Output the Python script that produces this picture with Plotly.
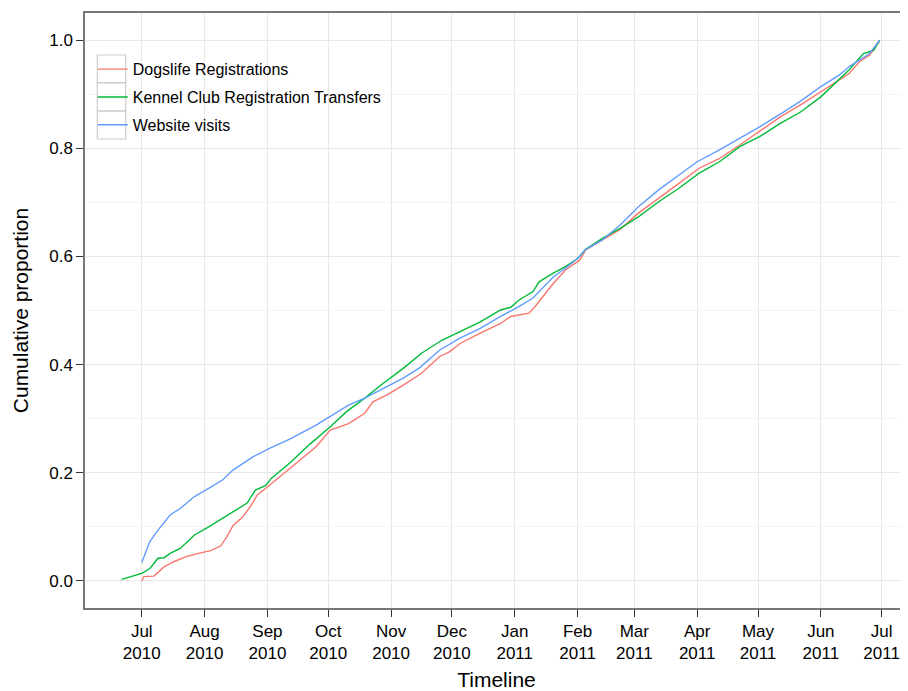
import plotly.graph_objects as go

# ---- data ----
red_dates = ["2010-07-01","2010-07-02","2010-07-07","2010-07-10","2010-07-12","2010-07-17","2010-07-23","2010-07-29",
             "2010-08-04","2010-08-09","2010-08-12","2010-08-15","2010-08-20","2010-08-24","2010-08-27","2010-09-02",
             "2010-09-08","2010-09-13","2010-09-25","2010-10-02","2010-10-11","2010-10-19","2010-10-23","2010-10-30",
             "2010-11-07","2010-11-16","2010-11-25","2010-11-30","2010-12-05","2010-12-15","2010-12-25","2010-12-30",
             "2011-01-08","2011-01-11","2011-01-16","2011-01-20","2011-01-26","2011-02-02","2011-02-05","2011-02-13",
             "2011-02-22","2011-03-03","2011-03-13","2011-03-23","2011-04-02","2011-04-12","2011-04-22","2011-05-02",
             "2011-05-12","2011-05-22","2011-06-01","2011-06-10","2011-06-15","2011-06-20","2011-06-25","2011-06-30"]
red_vals = [0.0,0.008,0.009,0.020,0.026,0.036,0.045,0.051,
            0.056,0.065,0.082,0.102,0.119,0.140,0.159,0.177,
            0.196,0.211,0.248,0.279,0.291,0.310,0.331,0.344,
            0.362,0.384,0.415,0.424,0.439,0.458,0.476,0.489,
            0.495,0.507,0.532,0.550,0.575,0.593,0.612,0.630,
            0.650,0.680,0.707,0.735,0.763,0.781,0.806,0.832,
            0.858,0.880,0.904,0.926,0.938,0.960,0.972,0.998]

green_dates = ["2010-06-21","2010-07-01","2010-07-05","2010-07-09","2010-07-12","2010-07-15","2010-07-20","2010-07-27",
               "2010-08-03","2010-08-11","2010-08-16","2010-08-22","2010-08-26","2010-08-31","2010-09-03","2010-09-12",
               "2010-09-22","2010-10-02","2010-10-10","2010-10-19","2010-10-28","2010-11-07","2010-11-16","2010-11-26",
               "2010-12-05","2010-12-15","2010-12-25","2010-12-30","2011-01-03","2011-01-10","2011-01-13","2011-01-20",
               "2011-01-26","2011-02-01","2011-02-05","2011-02-13","2011-02-22","2011-03-03","2011-03-13","2011-03-23",
               "2011-04-02","2011-04-12","2011-04-22","2011-05-02","2011-05-12","2011-05-22","2011-06-01","2011-06-10",
               "2011-06-15","2011-06-22","2011-06-27","2011-06-30"]
green_vals = [0.003,0.014,0.023,0.042,0.043,0.051,0.060,0.085,
              0.100,0.119,0.131,0.144,0.168,0.176,0.190,0.218,
              0.253,0.285,0.313,0.338,0.365,0.393,0.421,0.445,
              0.461,0.479,0.501,0.506,0.519,0.535,0.553,0.569,
              0.581,0.596,0.613,0.633,0.652,0.673,0.701,0.726,
              0.754,0.775,0.803,0.822,0.846,0.867,0.895,0.926,
              0.945,0.975,0.981,1.0]

blue_dates = ["2010-07-01","2010-07-05","2010-07-09","2010-07-12","2010-07-15","2010-07-20","2010-07-27","2010-08-03",
              "2010-08-10","2010-08-15","2010-08-25","2010-09-02","2010-09-12","2010-09-25","2010-10-02","2010-10-11",
              "2010-10-19","2010-10-28","2010-11-07","2010-11-15","2010-11-23","2010-11-25","2010-12-05","2010-12-15",
              "2010-12-25","2011-01-03","2011-01-10","2011-01-16","2011-01-20","2011-01-26","2011-02-01","2011-02-05",
              "2011-02-13","2011-02-22","2011-03-03","2011-03-13","2011-03-23","2011-04-01","2011-04-12","2011-04-22",
              "2011-05-02","2011-05-12","2011-05-22","2011-06-01","2011-06-10","2011-06-15","2011-06-20","2011-06-25",
              "2011-06-30"]
blue_vals = [0.034,0.073,0.094,0.107,0.122,0.134,0.156,0.171,
             0.187,0.205,0.230,0.245,0.262,0.288,0.304,0.325,
             0.338,0.356,0.375,0.394,0.421,0.427,0.449,0.467,
             0.489,0.507,0.523,0.547,0.562,0.578,0.596,0.613,
             0.630,0.658,0.692,0.723,0.750,0.775,0.797,0.818,
             0.840,0.863,0.887,0.914,0.935,0.951,0.963,0.975,
             1.0]

series_names = ["Dogslife Registrations", "Kennel Club Registration Transfers", "Website visits"]
series_colors = ["#F8766D", "#00BA38", "#619CFF"]

tick_dates = ["2010-07-01","2010-08-01","2010-09-01","2010-10-01","2010-11-01","2010-12-01","2011-01-01",
              "2011-02-01","2011-03-01","2011-04-01","2011-05-01","2011-06-01","2011-07-01"]
tick_text = ["Jul<br>2010","Aug<br>2010","Sep<br>2010","Oct<br>2010","Nov<br>2010","Dec<br>2010","Jan<br>2011",
             "Feb<br>2011","Mar<br>2011","Apr<br>2011","May<br>2011","Jun<br>2011","Jul<br>2011"]
y_ticks = [0.0, 0.2, 0.4, 0.6, 0.8, 1.0]
y_tick_text = ["0.0", "0.2", "0.4", "0.6", "0.8", "1.0"]

FONT = "Liberation Sans, Arial, Helvetica, sans-serif"

fig = go.Figure()
for i, (name, color, xs, ys) in enumerate(zip(series_names, series_colors,
                                              [red_dates, green_dates, blue_dates],
                                              [red_vals, green_vals, blue_vals])):
    fig.add_trace(go.Scatter(x=xs, y=ys, mode="lines", name=name, legendgroup=f"g{i}",
                             line=dict(color=color, width=1.4)))

# legend key boxes (ggplot-style grey key frames)
key_x0, key_x1 = 0.0150, 0.0495
key_edges = [0.9294, 0.8829, 0.8353, 0.7882]
for top, bot in zip(key_edges[:-1], key_edges[1:]):
    fig.add_shape(type="rect", xref="paper", yref="paper", x0=key_x0, x1=key_x1, y0=bot, y1=top,
                  line=dict(color="#cccccc", width=1.2), fillcolor="rgba(0,0,0,0)", layer="above")

fig.update_layout(
    width=900, height=683, autosize=False,
    paper_bgcolor="white", plot_bgcolor="white",
    margin=dict(l=77, r=0, t=5, b=83),
    font=dict(family=FONT, size=17, color="black"),
    showlegend=True,
    legend=dict(x=0.0094, y=0.934, xanchor="left", yanchor="top",
                bgcolor="rgba(0,0,0,0)", borderwidth=0, tracegroupgap=4,
                font=dict(family=FONT, size=16, color="black")),
    xaxis=dict(
        type="date",
        range=["2010-06-03", "2011-07-14"],
        tickmode="array", tickvals=tick_dates, ticktext=tick_text,
        showgrid=True, gridcolor="#e8e8e8", gridwidth=1,
        showline=True, linecolor="#777777", linewidth=1.5, mirror=True,
        ticks="outside", ticklen=7, tickcolor="#333333",
        zeroline=False,
        title=dict(text="Timeline", font=dict(size=21), standoff=11),
        tickfont=dict(size=17),
    ),
    yaxis=dict(
        range=[-0.05, 1.05],
        tickmode="array", tickvals=y_ticks, ticktext=y_tick_text,
        showgrid=True, gridcolor="#e8e8e8", gridwidth=1,
        minor=dict(dtick=0.1, tick0=0.1, showgrid=True, gridcolor="#f4f4f4", gridwidth=1, ticks=""),
        showline=True, linecolor="#777777", linewidth=1.5,
        ticks="outside", ticklen=7, tickcolor="#333333",
        zeroline=False,
        title=dict(text="Cumulative proportion", font=dict(size=21), standoff=15),
        tickfont=dict(size=17),
    ),
)

fig.write_html("out.html")
